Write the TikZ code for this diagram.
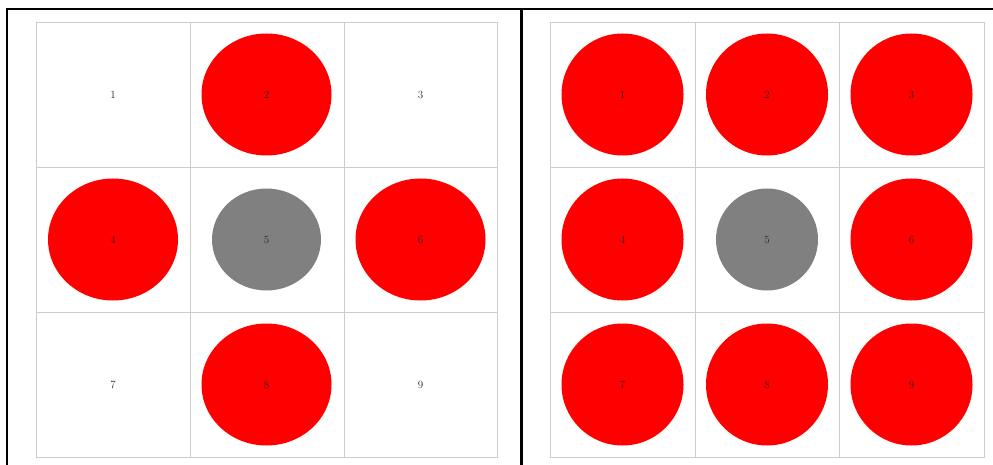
\documentclass[tikz,border=0pt]{standalone}
\usetikzlibrary{shapes.geometric}
\begin{document}
\begin{tikzpicture}[x=1pt,y=-1pt,
  gridline/.style={draw=black!20,line width=0.9pt},
  frameline/.style={draw=black,line width=2.4pt},
  lbl/.style={font=\fontsize{11}{13}\selectfont,text=black!85,inner sep=0pt},
  redL/.style={ellipse,fill=red,draw=none,minimum width=130,minimum height=122,inner sep=0pt,lbl},
  grayL/.style={ellipse,fill=black!50,draw=none,minimum width=109,minimum height=102,inner sep=0pt,lbl},
  redR/.style={circle,fill=red,draw=none,minimum size=122,inner sep=0pt,lbl},
  grayR/.style={circle,fill=black!50,draw=none,minimum size=102,inner sep=0pt,lbl}]
\useasboundingbox (0,0) rectangle (993,465);
% frame
\draw[frameline] (7,466) -- (7,9) -- (994,9);
\draw[frameline] (521.5,9) -- (521.5,466);
% left grid
\draw[gridline] (36,22) rectangle (497,457);
\draw[gridline] (190,22) -- (190,457) (344,22) -- (344,457);
\draw[gridline] (36,167) -- (497,167) (36,312) -- (497,312);
% right grid
\draw[gridline] (550,22) rectangle (984,457);
\draw[gridline] (695,22) -- (695,457) (839.5,22) -- (839.5,457);
\draw[gridline] (550,167) -- (984,167) (550,312) -- (984,312);
% left cells
\node[lbl]   (L1) at (113,94.5) {1};
\node[redL]  (L2) at (266.5,94.5) {2};
\node[lbl]   (L3) at (420.5,94.5) {3};
\node[redL]  (L4) at (113,239.5) {4};
\node[grayL] (L5) at (266.5,239.5) {5};
\node[redL]  (L6) at (420.5,239.5) {6};
\node[lbl]   (L7) at (113,384.5) {7};
\node[redL]  (L8) at (266.5,384.5) {8};
\node[lbl]   (L9) at (420.5,384.5) {9};
% right cells
\node[redR]  (R1) at (622.5,94.5) {1};
\node[redR]  (R2) at (767,94.5) {2};
\node[redR]  (R3) at (911.5,94.5) {3};
\node[redR]  (R4) at (622.5,239.5) {4};
\node[grayR] (R5) at (767,239.5) {5};
\node[redR]  (R6) at (911.5,239.5) {6};
\node[redR]  (R7) at (622.5,384.5) {7};
\node[redR]  (R8) at (767,384.5) {8};
\node[redR]  (R9) at (911.5,384.5) {9};
\end{tikzpicture}
\end{document}
